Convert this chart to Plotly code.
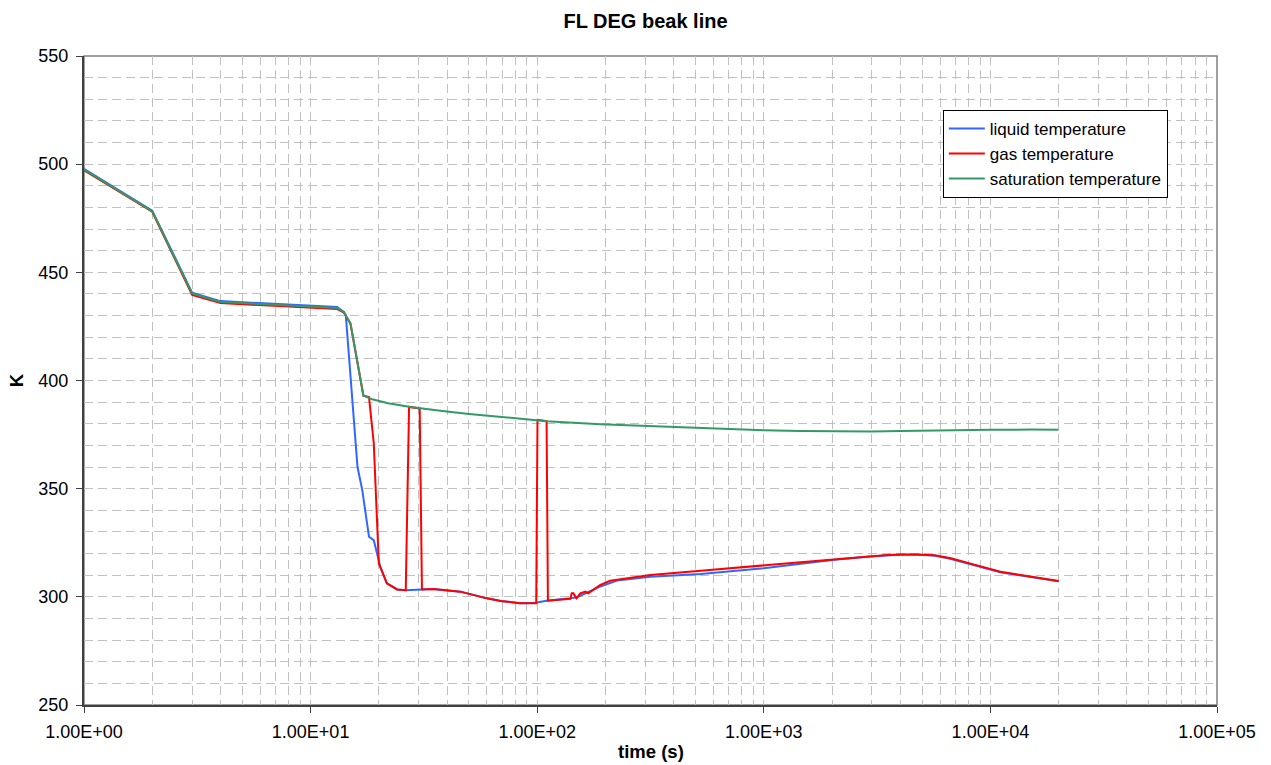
import plotly.graph_objects as go

# --- liquid temperature (K) vs time (s)
t_liquid = [1, 2, 3, 4, 13.1, 14.0, 14.3, 16.1, 16.9, 18.1, 19.0, 20.3, 21.7, 24.1,
            26.3, 31.0, 34.8, 45.8, 60, 69, 84, 98.4, 110, 140, 150, 190, 225, 316,
            527, 1000, 1450, 2000, 2950, 3500, 4000, 4800, 5700, 6700, 7890, 11070,
            20000]
T_liquid = [497.8, 478.5, 440.6, 436.7, 434.0, 431.7, 430.2, 360.1, 349.4, 327.8,
            326.2, 313.9, 306.2, 303.4, 303.1, 303.4, 303.6, 302.4, 299.3, 298.1,
            297.0, 297.3, 298.2, 299.3, 299.8, 304.8, 307.5, 309.3, 310.5, 313.2,
            315.4, 317.0, 318.7, 319.2, 319.5, 319.5, 319.0, 317.5, 315.5, 311.3,
            307.2]

# --- gas temperature (K) vs time (s)
t_gas = [1, 2, 3, 4, 13.1, 14.0, 15.0, 17.1, 18.1, 19.0, 20.0, 21.7, 24.1, 26.3,
         27.2, 30.3, 31.0, 34.8, 45.8, 60, 69, 84, 99, 100.3, 110, 111.5, 140, 142,
         144.5, 149, 155, 163, 168, 180, 190, 210, 316, 527, 1000, 1450, 2000, 2950,
         3500, 4000, 4800, 5700, 6700, 7890, 11070, 20000]
T_gas = [497.2, 478.0, 439.6, 435.8, 433.0, 431.5, 426.2, 393.0, 392.3, 371.0, 315.5,
         306.2, 303.4, 303.1, 387.8, 387.1, 303.4, 303.6, 302.4, 299.3, 298.1, 297.0,
         297.0, 381.8, 381.2, 298.2, 299.1, 301.6, 301.6, 299.3, 301.6, 302.4, 301.6,
         303.9, 305.5, 307.4, 310.1, 312.1, 314.6, 315.9, 317.3, 318.9, 319.3, 319.6,
         319.6, 319.2, 317.8, 315.8, 311.6, 307.3]

# --- saturation temperature (K) vs time (s)
t_sat = [1, 2, 3, 4, 13.1, 14.0, 15.0, 17.1, 18.7, 22, 27.6, 30.6, 37.4, 50, 70, 100,
         110, 190, 300, 500, 1000, 1450, 2000, 2500, 3000, 4000, 6000, 10000, 15000,
         20000]
T_sat = [497.5, 478.3, 440.2, 436.3, 433.5, 431.7, 426.4, 393.1, 391.3, 389.5, 387.8,
         387.1, 386.0, 384.5, 383.0, 381.7, 381.2, 379.8, 379.0, 378.0, 377.0, 376.6,
         376.4, 376.3, 376.4, 376.7, 377.0, 377.2, 377.3, 377.2]

x_tickvals = [1, 10, 100, 1000, 10000, 100000]
x_ticktext = ["1.00E+00", "1.00E+01", "1.00E+02", "1.00E+03", "1.00E+04", "1.00E+05"]
y_tickvals = [250, 300, 350, 400, 450, 500, 550]

FONT = "Liberation Sans, Arial, sans-serif"

fig = go.Figure()
fig.add_trace(go.Scatter(x=t_liquid, y=T_liquid, mode="lines", name="liquid temperature",
                         line=dict(color="#3366FF", width=2)))
fig.add_trace(go.Scatter(x=t_gas, y=T_gas, mode="lines", name="gas temperature",
                         line=dict(color="#FF0000", width=2)))
fig.add_trace(go.Scatter(x=t_sat, y=T_sat, mode="lines", name="saturation temperature",
                         line=dict(color="#339966", width=2)))

grid = dict(gridcolor="#C0C0C0", gridwidth=1, griddash="9px,5px")

fig.update_layout(
    width=1271, height=765,
    margin=dict(l=84, r=54, t=56, b=60, autoexpand=False),
    paper_bgcolor="white", plot_bgcolor="white",
    font=dict(family=FONT, size=18, color="black"),
    title=dict(text="<b>FL DEG beak line</b>", x=0.4956, xref="paper", xanchor="center",
               y=0.972, yref="container", yanchor="middle",
               font=dict(family=FONT, size=20, color="black")),
    showlegend=True,
    legend=dict(x=0.758, y=0.917, xanchor="left", yanchor="top",
                bgcolor="white", bordercolor="black", borderwidth=1,
                font=dict(family=FONT, size=17, color="black"),
                itemwidth=36, tracegroupgap=0),
    shapes=[dict(type="rect", xref="paper", yref="paper", x0=0, y0=0, x1=1, y1=1,
                 line=dict(color="#808080", width=1.5), layer="below")],
    annotations=[
        dict(text="<b>time (s)</b>", xref="paper", yref="paper", x=0.5, y=-0.0724,
             xanchor="center", yanchor="middle", showarrow=False,
             font=dict(family=FONT, size=18.5, color="black")),
        dict(text="<b>K</b>", xref="paper", yref="paper", x=-0.0594, y=0.5,
             xanchor="center", yanchor="middle", textangle=-90, showarrow=False,
             font=dict(family=FONT, size=18.5, color="black")),
    ],
)

fig.update_xaxes(
    type="log", range=[0, 5], automargin=False,
    tickmode="array", tickvals=x_tickvals, ticktext=x_ticktext,
    ticks="outside", ticklen=6, tickcolor="#404040", tickwidth=1,
    showline=True, linecolor="#404040", linewidth=2,
    showgrid=True, **grid,
    minor=dict(dtick="D1", showgrid=True, ticks="", **grid),
    tickfont=dict(family=FONT, size=18, color="black"),
    ticklabelstandoff=3,
    zeroline=False,
)
fig.update_yaxes(
    range=[250, 550], automargin=False, tickmode="array", tickvals=y_tickvals,
    ticks="outside", ticklen=6, tickcolor="#404040", tickwidth=1,
    showline=True, linecolor="#404040", linewidth=2,
    showgrid=True, **grid,
    minor=dict(dtick=10, showgrid=True, ticks="", **grid),
    tickfont=dict(family=FONT, size=18, color="black"),
    ticklabelstandoff=4,
    zeroline=False,
)

fig.write_html("out.html")
